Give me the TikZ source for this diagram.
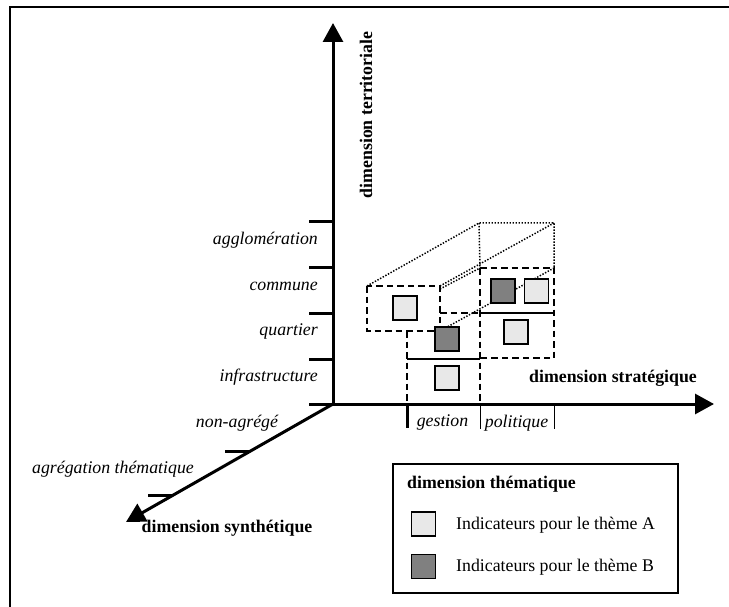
\documentclass[tikz,border=0pt]{standalone}
\usepackage{fontspec}
\setmainfont{Liberation Serif}
\usetikzlibrary{arrows.meta}
\definecolor{themeAfill}{HTML}{E8E8E8}
\definecolor{themeBfill}{HTML}{808080}
\newcommand\dimfont{\fontsize{17.8}{21}\selectfont}
\begin{document}
\begin{tikzpicture}[x=1pt,y=-1pt,
  axis/.style={line width=3pt,-{Triangle[length=19pt,width=20pt]}},
  tick/.style={line width=3pt},
  thintick/.style={line width=0.9pt},
  cellline/.style={line width=2pt,dash pattern=on 6.5pt off 4pt},
  wall/.style={line width=2pt},
  persp/.style={line width=1.5pt,dash pattern=on 1.4pt off 1.6pt},
  ind/.style={draw,line width=1.3pt,minimum size=24pt,inner sep=0pt},
  themeA/.style={ind,fill=themeAfill},
  themeB/.style={ind,fill=themeBfill},
  lvl/.style={font=\dimfont\itshape,inner sep=0pt},
  axlabel/.style={font=\dimfont\bfseries,inner sep=0pt},
  legtext/.style={font=\dimfont,inner sep=0pt,anchor=west}
]
\useasboundingbox (0,0) rectangle (729,607);

% page frame
\draw[line width=2pt] (9.5,612) -- (9.5,7.5) -- (735,7.5);

% origin and the three axes
\coordinate (O) at (333,404);
\coordinate (Ytip) at (333,23);
\coordinate (Xtip) at (714,404);
\coordinate (Ztip) at (126,522);
\draw[axis] (O) -- (Ytip);
\draw[axis] (O) -- (Xtip);
\draw[axis] (O) -- (Ztip);

% territorial levels
\foreach \dy in {0,45,91,137,182}
  \draw[tick] (O) ++(1.5,-\dy) -- ++(-25.5,0);
\node[lvl,anchor=east] (agglo) at (318,240) {agglomération};
\node[lvl,anchor=east] (commune) at (318,286) {commune};
\node[lvl,anchor=east] (quartier) at (318,332) {quartier};
\node[lvl,anchor=east] (infra) at (318,377) {infrastructure};
\node[axlabel,rotate=90] (territ) at (366,115) {dimension territoriale};

% synthetic levels
\draw[tick] (250,451) coordinate (s1) -- ++(-25,0);
\draw[tick] (173,495) coordinate (s2) -- ++(-25,0);
\node[lvl] (nonagr) at (237,423) {non-agrégé};
\node[lvl] (agrthem) at (113,469) {agrégation thématique};
\node[axlabel] (synth) at (227,528) {dimension synthétique};

% strategic levels
\draw[tick] (407,403) coordinate (g0) -- (407,428);
\draw[thintick] (480,404) coordinate (p0) -- (480,429);
\draw[thintick] (554,404) coordinate (p1) -- (554,429);
\node[lvl] (gestion) at (442.5,423) {gestion};
\node[lvl] (politique) at (516.5,423) {politique};
\node[axlabel,anchor=east] (strat) at (697,378) {dimension stratégique};

% cells of the cube
\coordinate (Lnw) at (367,286);
\coordinate (Lne) at (440,286);
\coordinate (Lsw) at (367,331);
\coordinate (Lse) at (440,331);
\coordinate (Rnw) at (480,268);
\coordinate (Rne) at (554,268);
\coordinate (Rsw) at (480,358);
\coordinate (Rse) at (554,358);
\coordinate (Bnw) at (479,223);
\coordinate (Bne) at (554,223);

\draw[cellline] (Lnw) rectangle (Lse);
\draw[cellline] (Rnw) -- (Rne) -- (Rse) -- (Rsw);
\draw[cellline] (Rnw) -- (p0);
\draw[cellline] (407,331) -- (g0);
\draw[cellline] (440,313) -- (480,313);
\draw[wall] (480,313) -- (554,313);
\draw[wall] (407,359) -- (480,359);

% perspective edges
\draw[persp] (Lnw) -- (Bnw) -- (Bne) -- (Rne);
\draw[persp] (Bnw) -- (Rnw);
\draw[persp] (Lne) -- (Bne);
\draw[persp] (440,289) -- (Rnw);
\draw[persp] (Lse) -- (Rne);

% indicators
\node[themeA] (a1) at (405,308) {};
\node[themeB] (b1) at (447,339) {};
\node[themeA] (a2) at (447,378) {};
\node[themeB] (b2) at (503,291) {};
\node[themeA] (a3) at (536.5,291) {};
\node[themeA] (a4) at (516,332) {};

% legend
\draw[line width=1.2pt] (393,464) rectangle (678,593);
\node[axlabel,anchor=west] (legtitle) at (407,484) {dimension thématique};
\node[themeA] (legA) at (423.5,524) {};
\node[themeB] (legB) at (423.5,566.5) {};
\node[legtext] (legAtext) at (456,525) {Indicateurs pour le thème A};
\node[legtext] (legBtext) at (456,567) {Indicateurs pour le thème B};
\end{tikzpicture}
\end{document}
